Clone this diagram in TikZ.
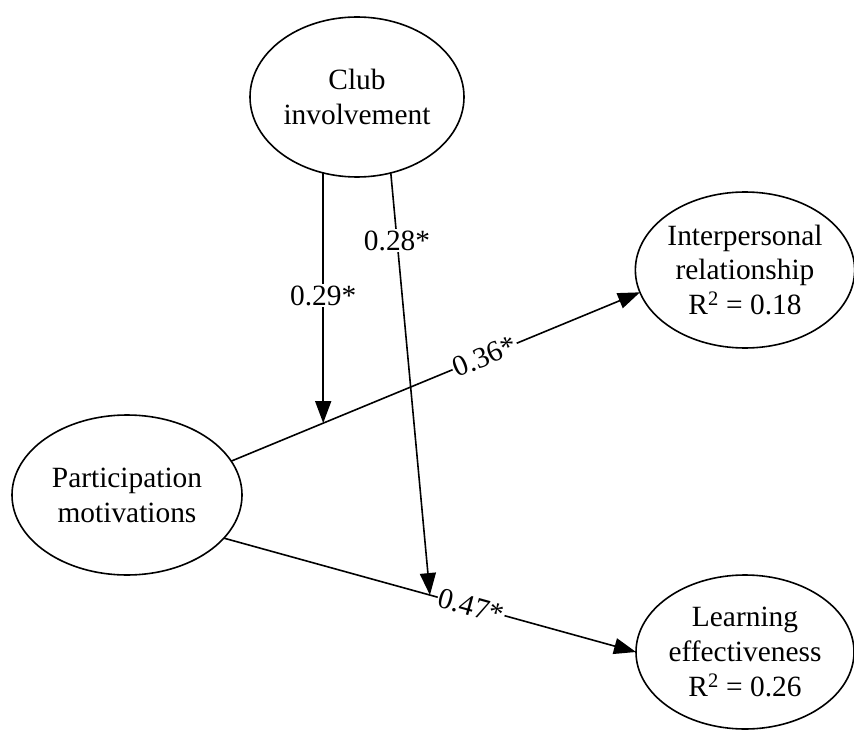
\documentclass[tikz,border=0pt]{standalone}
\usepackage{fontspec}
\setmainfont{Liberation Serif}
\usetikzlibrary{arrows.meta,shapes.geometric}
\begin{document}
\begin{tikzpicture}[x=1bp,y=-1bp,
  latent/.style={ellipse, draw, line width=1.6bp, inner sep=0pt, outer sep=0pt,
    align=center, font=\fontsize{29.5}{35}\selectfont},
  pathline/.style={draw, line width=1.6bp, -{Triangle[length=22bp,width=16bp]}},
  coef/.style={fill=white, inner sep=1.5bp, font=\fontsize{29.5}{34}\selectfont}]
\useasboundingbox (0,0) rectangle (854,731);
\node[latent, minimum width=214bp, minimum height=160bp] (ci) at (357,97) {Club\\involvement};
\node[latent, minimum width=230bp, minimum height=160bp] (pm) at (127,495) {Participation\\motivations};
\node[latent, minimum width=216bp, minimum height=156bp] (ip) at (745,270) {Interpersonal\\relationship\\R\textsuperscript{2} = 0.18};
\node[latent, minimum width=218bp, minimum height=154bp] (le) at (745,652) {Learning\\effectiveness\\R\textsuperscript{2} = 0.26};
\draw[pathline] (pm.18) -- coordinate[pos=0.2255] (m1) node[coef, sloped, pos=0.62] {0.36*} (ip.192);
\draw[pathline] (pm.-24) -- coordinate[pos=0.5] (m2) node[coef, sloped, pos=0.6] {0.47*} (le.180);
\draw[pathline] (ci.246) -- node[coef, pos=0.49] {0.29*} (ci.246 |- m1);
\draw[pathline] (ci.294) -- node[coef, pos=0.16] {0.28*} (m2);
\end{tikzpicture}
\end{document}
